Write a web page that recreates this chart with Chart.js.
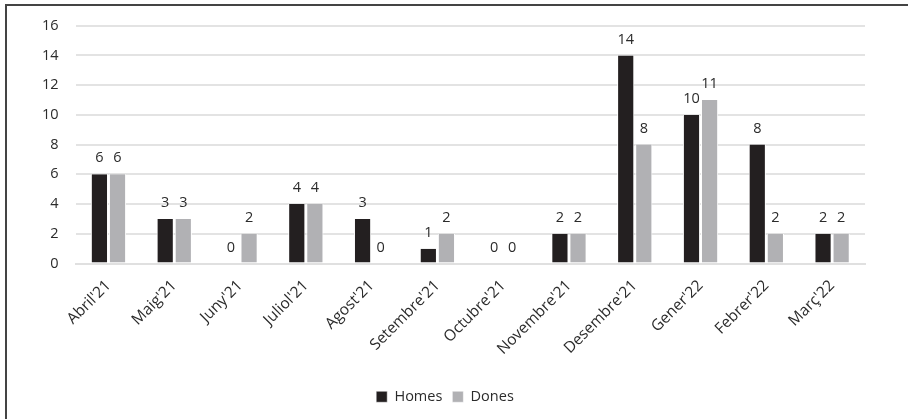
<!DOCTYPE html>
<html>
<head>
<meta charset="utf-8">
<script src="https://cdn.jsdelivr.net/npm/chart.js@4/dist/chart.umd.min.js"></script>
<style>
  html, body { margin: 0; padding: 0; background: #fff; }
  #wrap { position: relative; width: 908px; height: 419px; }
  #frame {
    position: absolute; left: 5px; top: 4px; right: 0; bottom: 0;
    border-left: 2px solid #444; border-top: 2px solid #444;
    pointer-events: none;
  }
</style>
</head>
<body>
<div id="wrap">
  <canvas id="chart" width="908" height="419"></canvas>
  <div id="frame"></div>
</div>
<script>
const months = ["Abril'21", "Maig'21", "Juny'21", "Juliol'21", "Agost'21", "Setembre'21",
                "Octubre'21", "Novembre'21", "Desembre'21", "Gener'22", "Febrer'22", "Març'22"];
const homes = [6, 3, 0, 4, 3, 1, 0, 2, 14, 10, 8, 2];
const dones = [6, 3, 2, 4, 0, 2, 0, 2, 8, 11, 2, 2];
const yMax = 16;
const yStep = 2;

const font = { family: '"Open Sans"', size: 14.5 };

// writes each bar's value just above it
const valueLabels = {
    id: 'valueLabels',
    afterDatasetsDraw(chart) {
        const ctx = chart.ctx;
        ctx.save();
        ctx.font = '14.5px "Open Sans"';
        ctx.fillStyle = '#2b2b2b';
        ctx.textAlign = 'center';
        ctx.textBaseline = 'middle';
        chart.data.datasets.forEach((ds, i) => {
            chart.getDatasetMeta(i).data.forEach((bar, j) => {
                ctx.fillText(String(ds.data[j]), bar.x, bar.y - 16);
            });
        });
        ctx.restore();
    }
};

new Chart(document.getElementById('chart'), {
    type: 'bar',
    data: {
        labels: months,
        datasets: [{
            label: 'Homes',
            data: homes,
            backgroundColor: '#231f20',
            borderColor: '#ffffff',
            borderWidth: { left: 1, right: 1 },
            categoryPercentage: 0.55,
            barPercentage: 0.95
        }, {
            label: 'Dones',
            data: dones,
            backgroundColor: '#b1b1b4',
            borderColor: '#ffffff',
            borderWidth: { left: 1, right: 1 },
            categoryPercentage: 0.55,
            barPercentage: 0.95
        }]
    },
    options: {
        responsive: false,
        animation: false,
        layout: { padding: { left: 25, right: 43, top: 18, bottom: 5 } },
        scales: {
            x: {
                grid: { display: false },
                border: { color: '#e0e0e0', width: 2 },
                afterFit(scale) { scale.height = 116; },
                ticks: {
                    minRotation: 45, maxRotation: 45,
                    padding: 5,
                    color: '#2b2b2b',
                    font: { family: '"Open Sans"', size: 15.5 }
                }
            },
            y: {
                min: 0, max: yMax,
                border: { display: false },
                grid: { color: '#e3e3e3', lineWidth: 2, drawTicks: false },
                ticks: {
                    stepSize: yStep,
                    padding: 17,
                    color: '#2b2b2b',
                    font: font
                }
            }
        },
        plugins: {
            tooltip: { enabled: false },
            legend: {
                position: 'bottom',
                labels: {
                    boxWidth: 11, boxHeight: 11,
                    padding: 10,
                    color: '#2b2b2b',
                    font: font,
                    useBorderRadius: false
                }
            }
        }
    },
    plugins: [valueLabels]
});
</script>
</body>
</html>
